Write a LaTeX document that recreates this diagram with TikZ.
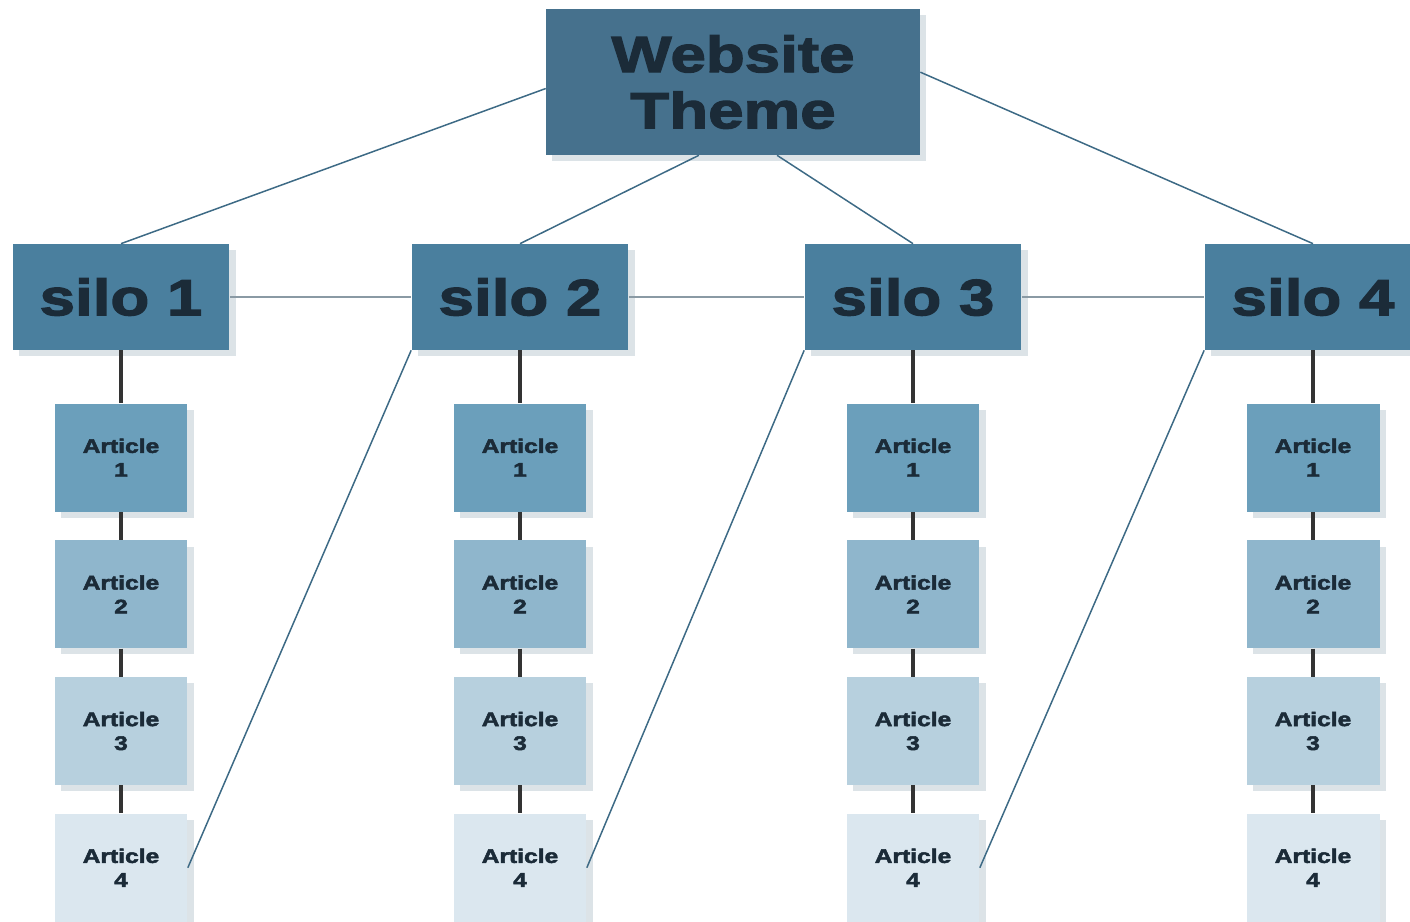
\documentclass[tikz,border=0pt]{standalone}
\usepackage{fontspec}
\newfontfamily\heavyfont[FakeStretch=1.25,BoldFeatures={FakeBold=2.5}]{Liberation Sans}
\usetikzlibrary{positioning, shadows}
\definecolor{themebox}{HTML}{46718D}
\definecolor{silobox}{HTML}{4A7F9E}
\definecolor{artone}{HTML}{6B9FBB}
\definecolor{arttwo}{HTML}{8FB6CC}
\definecolor{artthree}{HTML}{B7D0DE}
\definecolor{artfour}{HTML}{DBE7EF}
\definecolor{inktext}{HTML}{1B2B38}
\definecolor{trunkline}{HTML}{3D6A85}
\definecolor{railline}{HTML}{8A9AA4}
\definecolor{shade}{HTML}{5F7F94}
\tikzset{
  box/.style={rectangle, draw=none, text=inktext, align=center, inner sep=0pt,
              drop shadow={shadow xshift=3.5pt, shadow yshift=-3.5pt, opacity=.22, fill=shade}},
  themenode/.style={box, fill=themebox, minimum width=7.48cm, minimum height=2.92cm,
              font=\heavyfont\bfseries\fontsize{29}{32}\selectfont},
  silonode/.style={box, fill=silobox, minimum width=4.34cm, minimum height=2.12cm,
              font=\heavyfont\bfseries\fontsize{29}{32}\selectfont},
  artnode/.style={box, minimum width=2.66cm, minimum height=2.16cm,
              font=\heavyfont\bfseries\fontsize{11.2}{13.6}\selectfont},
  trunk/.style={draw=trunkline, line width=0.85pt},
  rail/.style={draw=railline, line width=1.4pt},
  stem/.style={draw=black!80, line width=2.2pt}
}
\begin{document}
\begin{tikzpicture}[x=0.02cm, y=-0.02cm]
\useasboundingbox (0,0) rectangle (1410,922);
\clip (0,0) rectangle (1410,922);
\node[themenode] (top) at (733,82) {Website\\Theme};
\foreach \i/\x in {1/121,2/520,3/913,4/1313} {
  \node[silonode] (s\i) at (\x,297) {silo \i};
  \node[artnode, fill=artone, below=1.06cm of s\i] (a\i-1) {Article\\1};
  \node[artnode, fill=arttwo, below=0.56cm of a\i-1] (a\i-2) {Article\\2};
  \node[artnode, fill=artthree, below=0.56cm of a\i-2] (a\i-3) {Article\\3};
  \node[artnode, fill=artfour, below=0.56cm of a\i-3] (a\i-4) {Article\\4};
  \draw[stem] (s\i.south) -- (a\i-1.north);
  \draw[stem] (a\i-1.south) -- (a\i-2.north);
  \draw[stem] (a\i-2.south) -- (a\i-3.north);
  \draw[stem] (a\i-3.south) -- (a\i-4.north);
}
\draw[trunk] (top.-178) -- (s1.north);
\draw[trunk] (top.-115) -- (s2.north);
\draw[trunk] (top.-59) -- (s3.north);
\draw[trunk] (top.3) -- (s4.north);
\foreach \i/\j in {1/2,2/3,3/4} {
  \draw[rail] (s\i.east) -- (s\j.west);
  \draw[trunk] (a\i-4.east) -- (s\j.south west);
}
\end{tikzpicture}
\end{document}
